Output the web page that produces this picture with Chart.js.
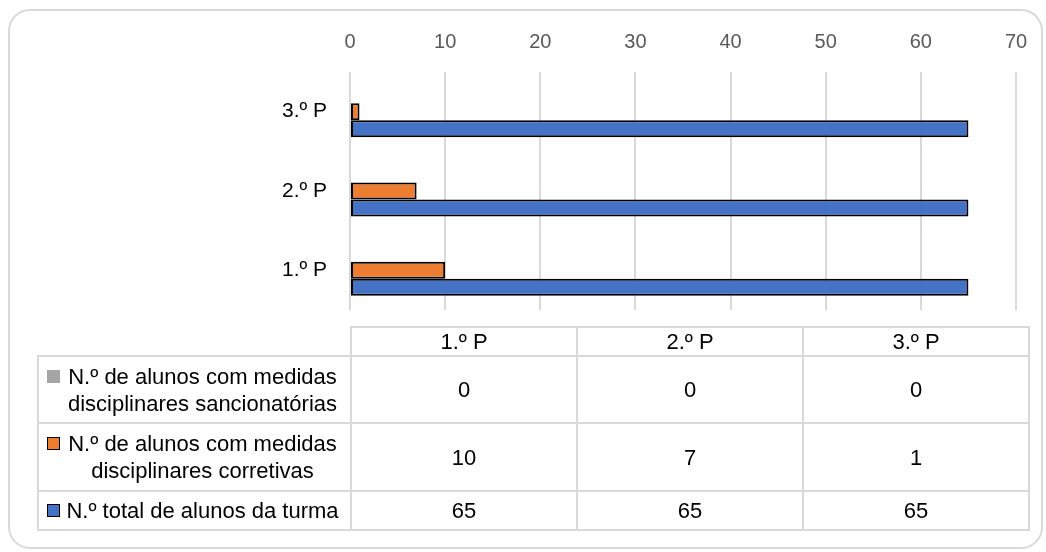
<!DOCTYPE html>
<html lang="pt">
<head>
<meta charset="utf-8">
<script src="https://cdn.jsdelivr.net/npm/chart.js@4/dist/chart.umd.min.js"></script>
<style>
  body { margin: 0; background: #fff; }
  #wrap { position: relative; width: 1046px; height: 552px; background: #fff; overflow: hidden; }
  #frame { position: absolute; left: 8px; top: 9px; width: 1035px; height: 540px; box-sizing: border-box;
           border: 2px solid #d9d9d9; border-radius: 22px; }
  #chart { position: absolute; left: 0; top: 0; }
  #dataTable { position: absolute; left: 37px; top: 326px; border-collapse: collapse; table-layout: fixed;
               font-family: "Liberation Sans", sans-serif; font-size: 22px; color: #000; }
  #dataTable td { border: 2px solid #d9d9d9; text-align: center; padding: 0; line-height: 27px; }
  #dataTable td.blank { border: none; }
  .legendCell { display: flex; align-items: flex-start; justify-content: center; padding: 0 8px 0 8px; }
  .key { width: 13px; height: 13px; margin: 7px 3px 0 0; flex: none; box-sizing: border-box; }
  .legendText { flex: 1; text-align: center; white-space: nowrap; }
</style>
</head>
<body>
<div id="wrap">
  <div id="frame"></div>
  <canvas id="chart" width="1046" height="552"></canvas>
  <table id="dataTable"></table>
</div>
<script>
const categories = ['1.º P', '2.º P', '3.º P'];
const seriesNames = [
  ['N.º de alunos com medidas', 'disciplinares sancionatórias'],
  ['N.º de alunos com medidas', 'disciplinares corretivas'],
  ['N.º total de alunos da turma']
];
const sancionatorias = [0, 0, 0];
const corretivas = [10, 7, 1];
const totalTurma = [65, 65, 65];
const seriesColors = ['#a5a5a5', '#ed7d31', '#4472c4'];
const keyBorders = ['#a5a5a5', '#000', '#000'];
const xMin = 0;
const xMax = 70;
const xStep = 10;

const allSeries = [sancionatorias, corretivas, totalTurma];

function drawChart() {
  const ctx = document.getElementById('chart').getContext('2d');
  const datasets = allSeries.map((values, i) => ({
    label: seriesNames[i].join(' '),
    data: values,
    backgroundColor: seriesColors[i],
    borderColor: '#000',
    borderWidth: 2,
    borderSkipped: false,
    barPercentage: 1,
    categoryPercentage: 0.643
  }));

  new Chart(ctx, {
    type: 'bar',
    data: { labels: categories, datasets: datasets },
    options: {
      indexAxis: 'y',
      responsive: false,
      animation: false,
      devicePixelRatio: 1,
      layout: { padding: { left: 0, top: 8, right: 30, bottom: 242 } },
      plugins: { legend: { display: false }, tooltip: { enabled: false } },
      scales: {
        x: {
          position: 'top',
          min: xMin,
          max: xMax,
          ticks: {
            stepSize: xStep,
            padding: 18,
            color: '#595959',
            font: { family: 'Liberation Sans', size: 20 }
          },
          grid: { color: '#d9d9d9', lineWidth: 2, drawTicks: false },
          border: { display: false },
          afterFit: scale => { scale.height = 64; }
        },
        y: {
          reverse: true,
          ticks: {
            padding: 23,
            color: '#000',
            font: { family: 'Liberation Sans', size: 21 }
          },
          grid: { display: false, drawTicks: false },
          border: { display: false },
          afterFit: scale => { scale.width = 350; }
        }
      }
    }
  });
}

function drawTable() {
  const table = document.getElementById('dataTable');
  const colWidths = [313, 226, 226, 226];
  const rowHeights = [29, 67, 68, 39];

  const colgroup = document.createElement('colgroup');
  colWidths.forEach(w => {
    const col = document.createElement('col');
    col.style.width = w + 'px';
    colgroup.appendChild(col);
  });
  table.appendChild(colgroup);

  const head = document.createElement('tr');
  head.style.height = rowHeights[0] + 'px';
  const blank = document.createElement('td');
  blank.className = 'blank';
  head.appendChild(blank);
  categories.forEach(c => {
    const td = document.createElement('td');
    td.textContent = c;
    head.appendChild(td);
  });
  table.appendChild(head);

  allSeries.forEach((values, i) => {
    const tr = document.createElement('tr');
    tr.style.height = rowHeights[i + 1] + 'px';
    const nameCell = document.createElement('td');
    const box = document.createElement('div');
    box.className = 'legendCell';
    const key = document.createElement('span');
    key.className = 'key';
    key.style.background = seriesColors[i];
    key.style.border = '1.5px solid ' + keyBorders[i];
    const text = document.createElement('div');
    text.className = 'legendText';
    text.innerHTML = seriesNames[i].join('<br>');
    box.appendChild(key);
    box.appendChild(text);
    nameCell.appendChild(box);
    tr.appendChild(nameCell);
    values.forEach(v => {
      const td = document.createElement('td');
      td.textContent = v;
      tr.appendChild(td);
    });
    table.appendChild(tr);
  });
}

drawChart();
drawTable();
</script>
</body>
</html>
